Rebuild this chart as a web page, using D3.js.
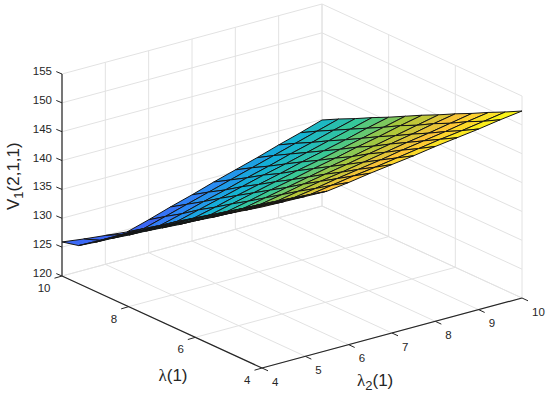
<!DOCTYPE html>
<html>
<head>
<meta charset="utf-8">
<script src="https://cdn.jsdelivr.net/npm/d3@7"></script>
<style>
    body { margin: 0; background: #fff; }
    text { font-family: "Liberation Sans", Arial, sans-serif; fill: #262626; }
</style>
</head>
<body>
<div id="chart"></div>
<script>
// tick labels
const l2Ticks = [4, 5, 6, 7, 8, 9, 10];
const lamTicks = [4, 6, 8, 10];
const zTicks = [120, 125, 130, 135, 140, 145, 150, 155];

// grid of the surface
const l2Values = [4, 4.5, 5, 5.5, 6, 6.5, 7, 7.5, 8, 8.5, 9, 9.5, 10];
const lamValues = [4, 4.5, 5, 5.5, 6, 6.5, 7, 7.5, 8, 8.5, 9, 9.5, 10];

// V1(2,1,1), one row per lambda, one column per lambda2
const surfaceZ = [
    [147.9, 147.8, 147.7, 147.6, 148.1, 148.7, 149.2, 149.7, 150.3, 150.8, 151.3, 151.9, 152.4],
    [146.0, 145.9, 145.8, 145.7, 146.3, 146.9, 147.4, 148.0, 148.6, 149.2, 149.7, 150.3, 150.9],
    [144.1, 144.0, 143.9, 143.8, 144.4, 145.1, 145.7, 146.3, 147.0, 147.6, 148.2, 148.9, 149.5],
    [142.1, 142.0, 142.0, 141.9, 142.6, 143.3, 143.9, 144.6, 145.3, 146.0, 146.6, 147.3, 148.0],
    [140.2, 140.1, 140.1, 140.0, 140.7, 141.5, 142.2, 142.9, 143.7, 144.4, 145.1, 145.9, 146.6],
    [138.2, 138.1, 138.1, 138.0, 138.8, 139.6, 140.4, 141.2, 141.9, 142.7, 143.5, 144.3, 145.1],
    [136.3, 136.2, 136.2, 136.1, 136.9, 137.8, 138.6, 139.5, 140.3, 141.2, 142.0, 142.9, 143.7],
    [134.4, 134.3, 134.3, 134.2, 135.1, 136.0, 136.9, 137.8, 138.6, 139.5, 140.4, 141.3, 142.2],
    [132.4, 132.4, 132.3, 132.3, 133.2, 134.2, 135.1, 136.0, 137.0, 137.9, 138.8, 139.8, 140.7],
    [130.5, 130.4, 130.4, 130.4, 131.4, 132.4, 133.4, 134.4, 135.3, 136.3, 137.3, 138.3, 139.3],
    [128.5, 128.5, 128.4, 128.4, 129.4, 130.5, 131.5, 132.6, 133.6, 134.7, 135.7, 136.8, 137.8],
    [126.6, 126.5, 126.5, 126.5, 127.6, 128.7, 129.8, 130.9, 132.0, 133.1, 134.2, 135.3, 136.4],
    [125.9, 125.4, 125.0, 124.6, 125.7, 126.9, 128.0, 129.2, 130.3, 131.4, 132.6, 133.7, 134.9]
];

// parula
const parulaColors = ['#3e26a8', '#4752f4', '#2d87f7', '#12b1d6', '#37c897', '#abc739', '#fec338', '#f9fb15'];

const width = 550;
const height = 396;

const svg = d3.select('#chart')
    .append('svg')
    .attr('width', width)
    .attr('height', height);

// box corners on the page
const front = [262, 368];
const alongL2 = [260, -70];
const alongLam = [-200, -92];

const l2Scale = d3.scaleLinear().domain([4, 10]).range([0, 1]);
const lamScale = d3.scaleLinear().domain([4, 10]).range([0, 1]);
const zScale = d3.scaleLinear().domain([120, 155]).range([0, 202]);

function project(l2, lam, z) {
    const a = l2Scale(l2);
    const b = lamScale(lam);
    return [
        front[0] + a * alongL2[0] + b * alongLam[0],
        front[1] + a * alongL2[1] + b * alongLam[1] - zScale(z)
    ];
}

const colorScale = d3.scaleLinear()
    .domain(d3.range(parulaColors.length).map(i => 120 + i * (152.4 - 120) / (parulaColors.length - 1)))
    .range(parulaColors)
    .interpolate(d3.interpolateRgb);

function segment(g, p, q, color, w) {
    g.append('line')
        .attr('x1', p[0]).attr('y1', p[1])
        .attr('x2', q[0]).attr('y2', q[1])
        .attr('stroke', color)
        .attr('stroke-width', w);
}

// walls and floor grid
const grid = svg.append('g');
const gridColor = '#e2e2e2';

l2Ticks.forEach(t => {
    segment(grid, project(t, 4, 120), project(t, 10, 120), gridColor, 1);
    segment(grid, project(t, 10, 120), project(t, 10, 155), gridColor, 1);
});
lamTicks.forEach(t => {
    segment(grid, project(4, t, 120), project(10, t, 120), gridColor, 1);
    segment(grid, project(10, t, 120), project(10, t, 155), gridColor, 1);
});
zTicks.forEach(t => {
    segment(grid, project(4, 10, t), project(10, 10, t), gridColor, 1);
    segment(grid, project(10, 10, t), project(10, 4, t), gridColor, 1);
});

// surface, far cells first
const cells = [];
lamValues.slice(0, -1).forEach((lam, i) => {
    l2Values.slice(0, -1).forEach((l2, j) => {
        cells.push({ i, j, lam, l2 });
    });
});
cells.sort((a, b) => (b.i + b.j) - (a.i + a.j));

svg.append('g')
    .selectAll('path')
    .data(cells)
    .enter()
    .append('path')
    .attr('d', d => {
        const pts = [
            project(l2Values[d.j], lamValues[d.i], surfaceZ[d.i][d.j]),
            project(l2Values[d.j + 1], lamValues[d.i], surfaceZ[d.i][d.j + 1]),
            project(l2Values[d.j + 1], lamValues[d.i + 1], surfaceZ[d.i + 1][d.j + 1]),
            project(l2Values[d.j], lamValues[d.i + 1], surfaceZ[d.i + 1][d.j])
        ];
        return 'M' + pts.join('L') + 'Z';
    })
    .attr('fill', d => colorScale(surfaceZ[d.i][d.j]))
    .attr('stroke', '#141414')
    .attr('stroke-width', 1)
    .attr('stroke-linejoin', 'round');

// axes
const axes = svg.append('g');
const axisColor = '#262626';

segment(axes, project(4, 10, 120), project(4, 10, 155), axisColor, 1.2);
segment(axes, project(4, 10, 120), project(4, 4, 120), axisColor, 1.2);
segment(axes, project(4, 4, 120), project(10, 4, 120), axisColor, 1.2);

zTicks.forEach(t => {
    const p = project(4, 10, t);
    segment(axes, p, [p[0] - 5.7, p[1] - 2.4], axisColor, 1);
    axes.append('text')
        .attr('x', p[0] - 10)
        .attr('y', p[1] - 3)
        .attr('dy', '0.35em')
        .attr('text-anchor', 'end')
        .attr('font-size', 11.5)
        .text(t);
});

lamTicks.forEach(t => {
    const p = project(4, t, 120);
    segment(axes, p, [p[0] - 7.5, p[1] + 2.2], axisColor, 1);
    axes.append('text')
        .attr('x', p[0] - 11.5)
        .attr('y', p[1] + 12)
        .attr('dy', '0.35em')
        .attr('text-anchor', 'end')
        .attr('font-size', 11.5)
        .text(t);
});

l2Ticks.forEach(t => {
    const p = project(t, 4, 120);
    segment(axes, p, [p[0] + 6, p[1] + 2.8], axisColor, 1);
    axes.append('text')
        .attr('x', p[0] + 10)
        .attr('y', p[1] + 13.5)
        .attr('dy', '0.35em')
        .attr('text-anchor', 'start')
        .attr('font-size', 11.5)
        .text(t);
});

// axis titles
const lamLabel = svg.append('text')
    .attr('x', 173)
    .attr('y', 381)
    .attr('text-anchor', 'middle')
    .attr('font-size', 17);
lamLabel.append('tspan').style('font-family', '"Liberation Serif", serif').text('λ');
lamLabel.append('tspan').text('(1)');

const l2Label = svg.append('text')
    .attr('x', 357)
    .attr('y', 386)
    .attr('font-size', 17);
l2Label.append('tspan').style('font-family', '"Liberation Serif", serif').text('λ');
l2Label.append('tspan').attr('dy', 4).attr('font-size', 13).text('2');
l2Label.append('tspan').attr('dy', -4).text('(1)');

const zLabel = svg.append('text')
    .attr('transform', 'translate(19,210) rotate(-90)')
    .attr('font-size', 17);
zLabel.append('tspan').text('V');
zLabel.append('tspan').attr('dy', 4).attr('font-size', 13).text('1');
zLabel.append('tspan').attr('dy', -4).text('(2,1,1)');
</script>
</body>
</html>
